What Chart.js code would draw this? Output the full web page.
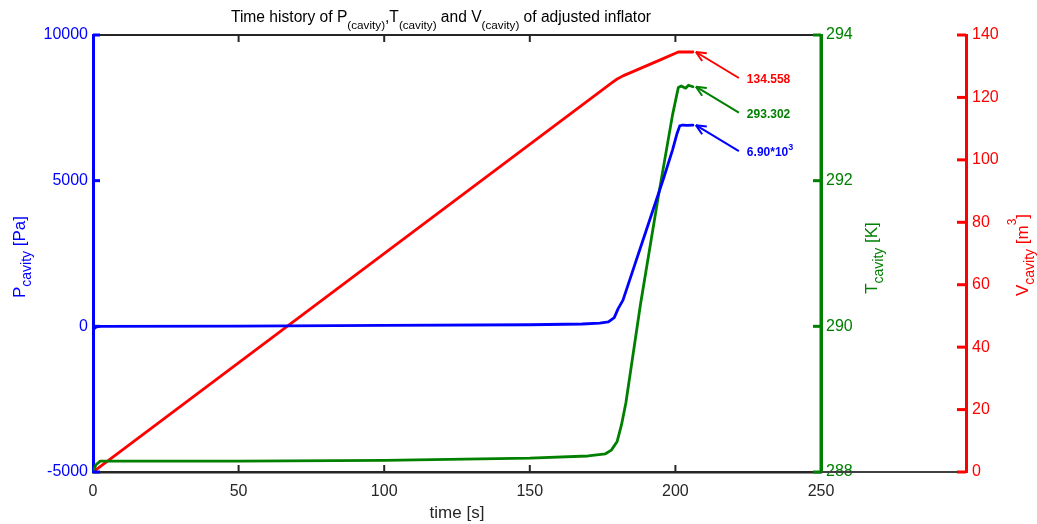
<!DOCTYPE html>
<html>
<head>
<meta charset="utf-8">
<script src="https://cdn.jsdelivr.net/npm/chart.js@4.4.1/dist/chart.umd.min.js"></script>
<style>
  html, body { margin: 0; padding: 0; background: #fff; }
  canvas { display: block; }
</style>
</head>
<body>
<canvas id="chart" width="1037" height="524"></canvas>
<script>
// values
const timeP = [0, 1, 2, 50, 100, 150, 168, 174, 177, 179, 180.3, 182, 186, 190, 194, 196, 199, 200.5, 201.5, 202.5, 204, 206];
const pressure = [-120, -30, 0, 10, 30, 55, 80, 110, 150, 300, 600, 900, 2100, 3300, 4500, 5100, 6050, 6600, 6880, 6910, 6895, 6905];

const timeT = [0, 1, 2.5, 50, 100, 150, 170, 176, 178, 180, 181.5, 183, 188, 194, 199, 201, 202, 203.5, 204.5, 206];
const temperature = [288.0, 288.1, 288.15, 288.15, 288.16, 288.19, 288.22, 288.25, 288.3, 288.42, 288.65, 288.95, 290.3, 291.75, 292.9, 293.28, 293.3, 293.27, 293.31, 293.29];

const timeV = [0, 174, 178, 180, 182, 185, 190, 195, 201, 206];
const volume = [0, 121.8, 124.6, 125.9, 126.9, 128.1, 130.1, 132.1, 134.558, 134.558];

const peakLabels = ['134.558', '293.302', '6.90*10'];
const peakSup = ['', '', '3'];

const BLUE = '#0000ff';
const GREEN = '#008000';
const RED = '#ff0000';
const DARK = '#262626';
const FONT = '"Liberation Sans", Arial, sans-serif';

function toPoints(xs, ys) {
  return xs.map((t, i) => ({ x: t, y: ys[i] }));
}

// draw text made of parts [text, size, dy, bold]
function drawRich(ctx, parts, x, y, align) {
  let total = 0;
  parts.forEach(p => {
    ctx.font = (p[3] ? 'bold ' : '') + p[1] + 'px ' + FONT;
    p.w = ctx.measureText(p[0]).width;
    total += p.w;
  });
  let cx = align === 'center' ? x - total / 2 : x;
  ctx.textAlign = 'left';
  ctx.textBaseline = 'alphabetic';
  parts.forEach(p => {
    ctx.font = (p[3] ? 'bold ' : '') + p[1] + 'px ' + FONT;
    ctx.fillText(p[0], cx, y + p[2]);
    cx += p.w;
  });
}

function line(ctx, x1, y1, x2, y2, color, width) {
  ctx.strokeStyle = color;
  ctx.lineWidth = width;
  ctx.beginPath();
  ctx.moveTo(x1, y1);
  ctx.lineTo(x2, y2);
  ctx.stroke();
}

const decor = {
  id: 'decor',
  afterDraw(chart) {
    const { ctx, chartArea: a } = chart;
    const { x, yP, yT, yV } = chart.scales;
    ctx.save();
    ctx.lineCap = 'butt';

    // top frame and bottom extension to the red axis
    line(ctx, a.left, a.top, a.right, a.top, DARK, 2);
    line(ctx, a.right, a.bottom, yV.left, a.bottom, '#404040', 2);

    // inward ticks
    x.ticks.forEach(t => {
      if (t.value <= x.min || t.value >= x.max) return;
      const px = x.getPixelForValue(t.value);
      line(ctx, px, a.bottom, px, a.bottom - 7, DARK, 2);
      line(ctx, px, a.top, px, a.top + 7, DARK, 2);
    });
    yP.ticks.forEach(t => {
      const py = yP.getPixelForValue(t.value);
      line(ctx, a.left, py, a.left + 7, py, BLUE, 3);
    });
    yT.ticks.forEach(t => {
      const py = yT.getPixelForValue(t.value);
      line(ctx, a.right, py, a.right - 8, py, GREEN, 3);
    });
    yV.ticks.forEach(t => {
      const py = yV.getPixelForValue(t.value);
      line(ctx, yV.left, py, yV.left - 9, py, RED, 3);
    });
    line(ctx, a.right, a.top, a.right, a.bottom, GREEN, 3);

    // title
    ctx.fillStyle = '#000';
    drawRich(ctx, [
      ['Time history of P', 15.6, 0], ['(cavity)', 11.7, 6.5], [',T', 15.6, 0], ['(cavity)', 11.7, 6.5],
      [' and V', 15.6, 0], ['(cavity)', 11.7, 6.5], [' of adjusted inflator', 15.6, 0]
    ], (a.left + a.right) / 2 - 16, 22, 'center');

    // x title
    ctx.fillStyle = DARK;
    drawRich(ctx, [['time [s]', 17, 0]], (a.left + a.right) / 2, 518, 'center');

    // rotated axis titles
    const vTitle = (parts, bx, cy, color) => {
      ctx.save();
      ctx.translate(bx, cy);
      ctx.rotate(-Math.PI / 2);
      ctx.fillStyle = color;
      drawRich(ctx, parts, 0, 0, 'center');
      ctx.restore();
    };
    vTitle([['P', 17, 0], ['cavity', 14, 6], [' [Pa]', 17, 0]], 25, 257, BLUE);
    vTitle([['T', 17, 0], ['cavity', 14, 6], [' [K]', 17, 0]], 877, 258, GREEN);
    vTitle([['V', 17, 0], ['cavity', 14, 6], [' [m', 17, 0], ['3', 12, -12], [']', 17, 0]], 1028, 255, RED);

    // peak arrows with labels
    const ends = [
      [yV, timeV, volume, RED],
      [yT, timeT, temperature, GREEN],
      [yP, timeP, pressure, BLUE]
    ];
    ends.forEach((e, i) => {
      const [sc, ts, vs, color] = e;
      const n = ts.length - 1;
      const tipX = x.getPixelForValue(ts[n]) + 3;
      const tipY = sc.getPixelForValue(vs[n]);
      const tailX = tipX + 43, tailY = tipY + 26;
      line(ctx, tailX, tailY, tipX, tipY, color, 2);
      const ang = Math.atan2(tailY - tipY, tailX - tipX);
      [0.42, -0.42].forEach(d => {
        line(ctx, tipX, tipY, tipX + 11 * Math.cos(ang + d), tipY + 11 * Math.sin(ang + d), color, 2);
      });
      ctx.fillStyle = color;
      const parts = [[peakLabels[i], 12, 5, true]];
      if (peakSup[i]) parts.push([peakSup[i], 9, -1, true]);
      drawRich(ctx, parts, tailX + 8, tailY, 'left');
    });

    ctx.restore();
  }
};

const fixSize = size => scale => {
  if (scale.isHorizontal()) scale.height = size; else scale.width = size;
};
const plain = v => String(v);

new Chart(document.getElementById('chart'), {
  type: 'line',
  data: {
    datasets: [
      { data: toPoints(timeP, pressure), yAxisID: 'yP', borderColor: BLUE, borderWidth: 2.8 },
      { data: toPoints(timeT, temperature), yAxisID: 'yT', borderColor: GREEN, borderWidth: 2.8 },
      { data: toPoints(timeV, volume), yAxisID: 'yV', borderColor: RED, borderWidth: 2.8 }
    ]
  },
  options: {
    responsive: false,
    animation: false,
    elements: { point: { radius: 0 }, line: { tension: 0, borderCapStyle: 'round', borderJoinStyle: 'round' } },
    layout: { padding: { top: 35, left: 0, right: 0, bottom: 0 } },
    plugins: { legend: { display: false }, tooltip: { enabled: false } },
    scales: {
      x: {
        type: 'linear', position: 'bottom', min: 0, max: 250,
        ticks: { stepSize: 50, color: DARK, font: { family: FONT, size: 16 }, padding: 10, maxRotation: 0, callback: plain },
        grid: { display: false, drawTicks: false },
        border: { display: true, color: DARK, width: 2.5 },
        afterFit: fixSize(52)
      },
      yP: {
        type: 'linear', position: 'left', min: -5000, max: 10000,
        ticks: { stepSize: 5000, color: BLUE, font: { family: FONT, size: 16 }, padding: 5, callback: plain },
        grid: { display: false, drawTicks: false },
        border: { display: true, color: BLUE, width: 3 },
        afterFit: fixSize(93)
      },
      yT: {
        type: 'linear', position: 'right', min: 288, max: 294,
        ticks: { stepSize: 2, color: GREEN, font: { family: FONT, size: 16 }, padding: 5, callback: plain },
        grid: { display: false, drawTicks: false },
        border: { display: true, color: GREEN, width: 3 },
        afterFit: fixSize(145)
      },
      yV: {
        type: 'linear', position: 'right', min: 0, max: 140,
        ticks: { stepSize: 20, color: RED, font: { family: FONT, size: 16 }, padding: 6, callback: plain },
        grid: { display: false, drawTicks: false },
        border: { display: true, color: RED, width: 3 },
        afterFit: fixSize(71)
      }
    }
  },
  plugins: [decor]
});
</script>
</body>
</html>
